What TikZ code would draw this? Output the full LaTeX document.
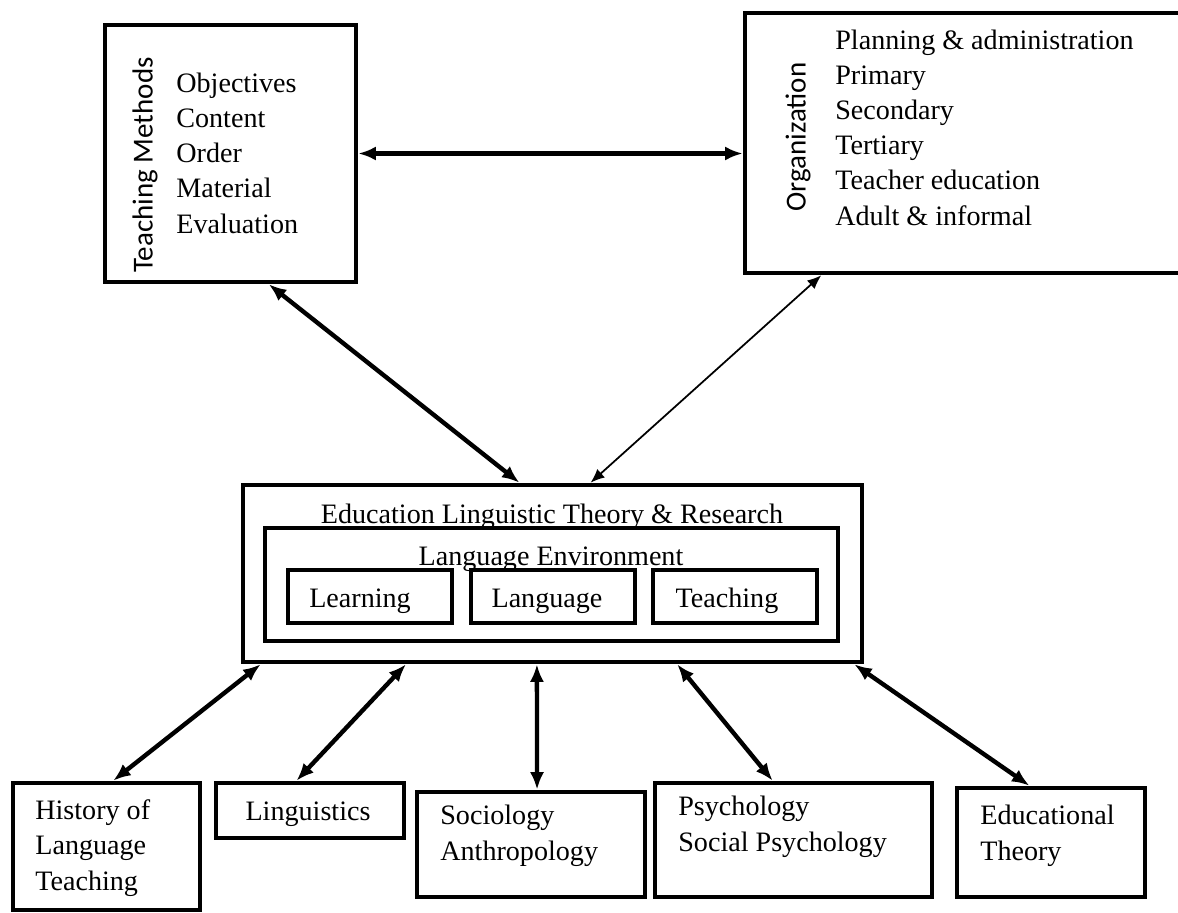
\documentclass[tikz,border=0pt]{standalone}
\usepackage{fontspec}
\setmainfont{Liberation Serif}
\newfontfamily\sidefont{Carlito}
\usetikzlibrary{arrows.meta,calc,fit}

\begin{document}
\begin{tikzpicture}[x=0.02cm,y=-0.02cm,>={Latex[length=10pt,width=8pt]},
  box/.style={draw,line width=2.6pt,inner sep=0pt},
  lbl/.style={font=\fontsize{16}{20}\selectfont,inner sep=0pt},
  itemtxt/.style={lbl,align=left},
  sidetxt/.style={font=\sidefont\fontsize{16.5}{20}\selectfont,rotate=90,inner sep=0pt},
  link/.style={<->,line width=2.5pt},
  thinlink/.style={<->,line width=1pt,>={Latex[length=8pt,width=6.5pt]}}]
\path[use as bounding box,fill=white] (0,0) rectangle (1178,913);

% top boxes
\node[box,fit={(105,25) (356,282)}] (tm) {};
\node[sidetxt] (tmlbl) at (145,165) {Teaching Methods};
\node[itemtxt,anchor=base west] (tmlist) at (176,233) {Objectives\\Content\\Order\\Material\\Evaluation};

\node[box,fit={(745,13) (1200,273)}] (org) {};
\node[sidetxt] (orglbl) at (798,137) {Organization};
\node[itemtxt,anchor=base west] (orglist) at (835,225) {Planning \& administration\\Primary\\Secondary\\Tertiary\\Teacher education\\Adult \& informal};

% central box
\node[box,fit={(243,485) (862,662)}] (elt) {};
\node[lbl,anchor=base] (elttxt) at (552,523) {Education Linguistic Theory \& Research};
\node[box,fit={(265,528) (838,641)}] (env) {};
\node[lbl,anchor=base] (envtxt) at (551,565) {Language Environment};
\node[box,fit={(288,570) (452,623)}] (learn) {};
\node[lbl,anchor=base] (learntxt) at (360,607) {Learning};
\node[box,fit={(471,570) (635,623)}] (lang) {};
\node[lbl,anchor=base] (langtxt) at (547,607) {Language};
\node[box,fit={(653,570) (817,623)}] (teach) {};
\node[lbl,anchor=base] (teachtxt) at (727,607) {Teaching};

% bottom boxes
\node[box,fit={(13,783) (200,910)}] (hist) {};
\node[itemtxt,anchor=base west] (histtxt) at (35,890) {History of\\Language\\Teaching};
\node[box,fit={(216,783) (404,838)}] (ling) {};
\node[lbl,anchor=base] (lingtxt) at (308,820) {Linguistics};
\node[box,fit={(417,792) (645,897)}] (soc) {};
\node[itemtxt,anchor=base west] (soctxt) at (440,860) {Sociology\\Anthropology};
\node[box,fit={(655,783) (932,897)}] (psy) {};
\node[itemtxt,anchor=base west] (psytxt) at (678,851) {Psychology\\Social Psychology};
\node[box,fit={(957,788) (1145,897)}] (edu) {};
\node[itemtxt,anchor=base west] (edutxt) at (980,860) {Educational\\Theory};

% connectors
\draw[link] (tm.east) -- (tm.east -| org.west);
\draw[link] ($(tm.south west)!.65!(tm.south east)$) -- ($(elt.north west)!.447!(elt.north east)$);
\draw[thinlink] ($(org.south west)!.171!(org.south east)$) -- ($(elt.north west)!.561!(elt.north east)$);
\draw[link] ($(elt.south west)!.032!(elt.south east)$) -- ($(hist.north west)!.535!(hist.north east)$);
\draw[link] ($(elt.south west)!.265!(elt.south east)$) -- ($(ling.north west)!.43!(ling.north east)$);
\draw[link] ($(elt.south west)!.475!(elt.south east)$) -- ($(soc.north west)!.526!(soc.north east)$);
\draw[link] ($(elt.south west)!.70!(elt.south east)$) -- ($(psy.north west)!.426!(psy.north east)$);
\draw[link] ($(elt.south west)!.984!(elt.south east)$) -- ($(edu.north west)!.388!(edu.north east)$);
\end{tikzpicture}
\end{document}
